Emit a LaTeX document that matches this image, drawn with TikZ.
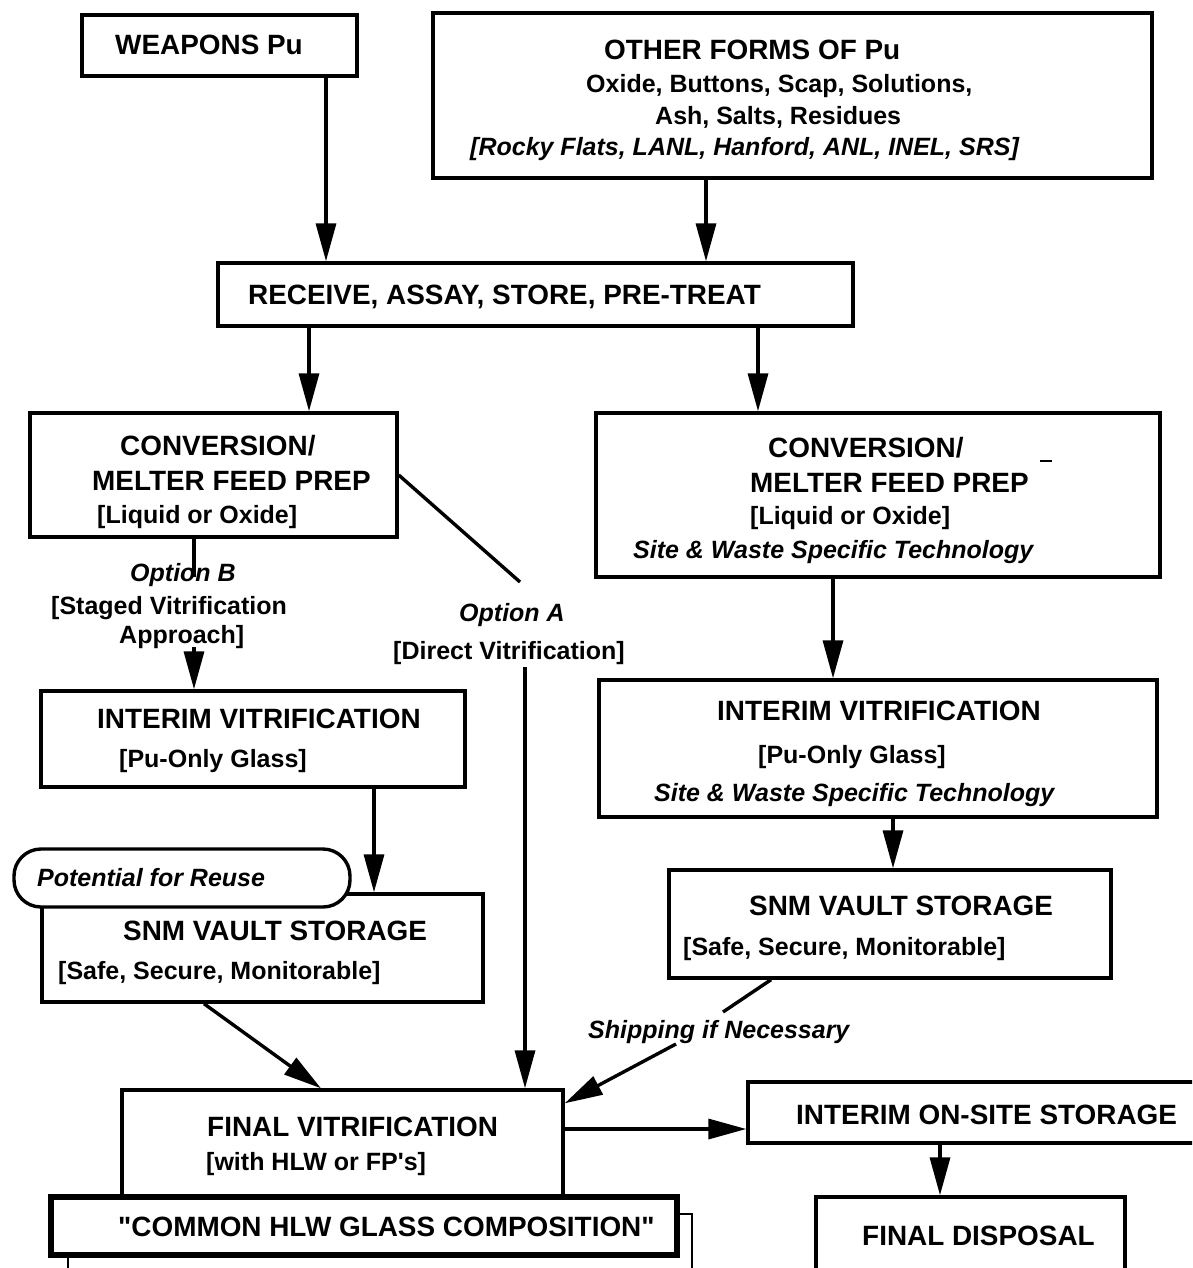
\documentclass[tikz,border=0pt]{standalone}
\usepackage{fontspec}
\setmainfont{Liberation Sans}
\newfontfamily\qfont{Liberation Sans}
\newcommand{\sq}{{\qfont\bfseries '}}
\newcommand{\dq}{{\qfont\bfseries "}}
\usetikzlibrary{arrows.meta}
\begin{document}
\begin{tikzpicture}[x=1pt,y=-1pt,
  box/.style={draw, line width=3.4pt, rectangle, inner sep=0pt, fill=white},
  hd/.style={font=\fontsize{27.9}{30}\selectfont\bfseries, inner sep=0pt, anchor=west, text height=20pt, text depth=0pt},
  sb/.style={font=\fontsize{25}{28}\selectfont\bfseries, inner sep=0pt, anchor=west, text height=18pt, text depth=0pt},
  si/.style={font=\fontsize{25}{28}\selectfont\bfseries\itshape, inner sep=0pt, anchor=west, text height=18pt, text depth=0pt},
  ln/.style={line width=3.4pt},
  arr/.style={line width=3.4pt, -{Triangle[length=38pt,width=20pt]}},
]
\useasboundingbox (0,0) rectangle (1192,1268);
\fill[white] (0,0) rectangle (1192,1268);
\clip (0,0) rectangle (1192,1268);

% ---------- boxes ----------
\node[box, minimum width=275pt, minimum height=61pt] (weap) at (219.5,45.5) {};
\node[box, minimum width=719pt, minimum height=165pt] (other) at (792.5,95.5) {};
\node[box, minimum width=635pt, minimum height=63pt] (recv) at (535.5,294.5) {};
\node[box, minimum width=367pt, minimum height=124pt] (convL) at (213.5,475) {};
\node[box, minimum width=564pt, minimum height=164pt] (convR) at (878,495) {};
\node[box, minimum width=424pt, minimum height=96pt] (intL) at (253,739) {};
\node[box, minimum width=558pt, minimum height=137pt] (intR) at (878,748.5) {};
\node[box, minimum width=441pt, minimum height=108pt] (snmL) at (262.5,948) {};
\node[box, rounded corners=27pt, minimum width=336pt, minimum height=58pt] (reuse) at (182,878) {};
\node[box, minimum width=442pt, minimum height=108pt] (snmR) at (890,924) {};
\node[box, minimum width=441pt, minimum height=120pt] (finalV) at (342.5,1150) {};
\node[draw, line width=2.6pt, inner sep=0pt, minimum width=624pt, minimum height=86pt] (cshadow) at (380,1257) {};
\node[box, line width=5.5pt, minimum width=626pt, minimum height=58pt] (common) at (364,1226) {};
\node[box, minimum width=462pt, minimum height=61pt] (onsite) at (979,1112.5) {};
\node[box, minimum width=309pt, minimum height=100pt] (disp) at (970.5,1247) {};

% ---------- texts ----------
\node[hd] (tweap) at (115,45) {WEAPONS Pu};
\node[hd] (tother1) at (604,50) {OTHER FORMS OF Pu};
\node[sb] (tother2) at (586,84) {Oxide, Buttons, Scap, Solutions,};
\node[sb] (tother3) at (655,116) {Ash, Salts, Residues};
\node[si] (tother4) at (470,147) {[Rocky Flats, LANL, Hanford, ANL, INEL, SRS]};
\node[hd] (trecv) at (248,294) {RECEIVE, ASSAY, STORE, PRE-TREAT};
\node[hd] (tconvL1) at (120,445) {CONVERSION/};
\node[hd] (tconvL2) at (92,480) {MELTER FEED PREP};
\node[sb] (tconvL3) at (97,514) {[Liquid or Oxide]};
\node[hd] (tconvR1) at (768,447) {CONVERSION/};
\node[hd] (tconvR2) at (750,482) {MELTER FEED PREP};
\node[sb] (tconvR3) at (750,515) {[Liquid or Oxide]};
\node[si] (tconvR4) at (633,549) {Site \& Waste Specific Technology};
\node[si] (toptB) at (130,572) {Option B};
\node[sb] (tstaged) at (51,605) {[Staged Vitrification};
\node[sb] (tappr) at (119,634) {Approach]};
\node[si] (toptA) at (459,612) {Option A};
\node[sb] (tdirect) at (393,650) {[Direct Vitrification]};
\node[hd] (tintL1) at (97,718) {INTERIM VITRIFICATION};
\node[sb] (tintL2) at (119,758) {[Pu-Only Glass]};
\node[hd] (tintR1) at (717,710) {INTERIM VITRIFICATION};
\node[sb] (tintR2) at (758,754) {[Pu-Only Glass]};
\node[si] (tintR3) at (654,792) {Site \& Waste Specific Technology};
\node[si] (treuse) at (37,877) {Potential for Reuse};
\node[hd] (tsnmL1) at (123,930) {SNM VAULT STORAGE};
\node[sb] (tsnmL2) at (58,970) {[Safe, Secure, Monitorable]};
\node[hd] (tsnmR1) at (749,905) {SNM VAULT STORAGE};
\node[sb] (tsnmR2) at (683,946) {[Safe, Secure, Monitorable]};
\node[si] (tship) at (588,1029) {Shipping if Necessary};
\node[hd] (tfinal1) at (207,1126) {FINAL VITRIFICATION};
\node[sb] (tfinal2) at (206,1161) {[with HLW or FP\sq s]};
\node[hd] (tcommon) at (118,1226) {\dq COMMON HLW GLASS COMPOSITION\dq};
\node[hd] (tonsite) at (796,1114) {INTERIM ON-SITE STORAGE};
\node[hd] (tdisp) at (862,1235) {FINAL DISPOSAL};

\draw[line width=2pt] (1040,461) -- (1052,461);

% ---------- connectors ----------
\coordinate (k1) at (326,0);
\draw[arr] (k1 |- weap.south) -- (k1 |- recv.north);
\coordinate (k2) at (706,0);
\draw[arr] (k2 |- other.south) -- (k2 |- recv.north);
\coordinate (k3) at (309,0);
\draw[arr] (k3 |- recv.south) -- (k3 |- convL.north);
\coordinate (k4) at (758,0);
\draw[arr] (k4 |- recv.south) -- (k4 |- convR.north);
\coordinate (oa1) at (520,582);
\draw[ln] (convL.east) -- (oa1);
\coordinate (oa2) at (525,667);
\draw[arr] (oa2) -- (oa2 |- finalV.north);
\coordinate (ob1) at (194,577);
\draw[ln] (ob1 |- convL.south) -- (ob1);
\coordinate (ob2) at (194,647);
\draw[arr] (ob2) -- (ob2 |- intL.north);
\coordinate (k5) at (374,0);
\draw[arr] (k5 |- intL.south) -- (k5 |- snmL.north);
\coordinate (k6) at (204,0);
\coordinate (k7) at (321,0);
\draw[arr] (k6 |- snmL.south) -- (k7 |- finalV.north);
\coordinate (k8) at (833,0);
\draw[arr] (k8 |- convR.south) -- (k8 |- intR.north);
\coordinate (k9) at (893,0);
\draw[arr] (k9 |- intR.south) -- (k9 |- snmR.north);
\coordinate (k10) at (771,0);
\coordinate (sh1) at (723,1012);
\draw[ln] (k10 |- snmR.south) -- (sh1);
\coordinate (sh2) at (676,1044);
\draw[arr] (sh2) -- ([yshift=-15pt]finalV.north east);
\coordinate (k11) at (0,1129);
\draw[arr] (finalV.east |- k11) -- (onsite.west |- k11);
\coordinate (k12) at (940,0);
\draw[arr] (k12 |- onsite.south) -- (k12 |- disp.north);
\end{tikzpicture}
\end{document}
